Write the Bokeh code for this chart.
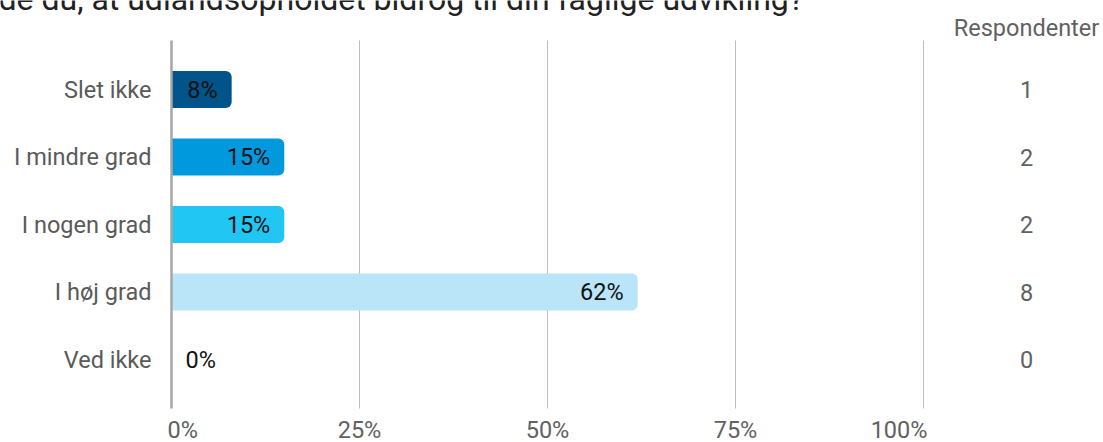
from bokeh.plotting import figure
from bokeh.models import Range1d, ColumnDataSource
from bokeh.core.properties import value
from bokeh.embed import file_html
from bokeh.resources import INLINE

# ---- data ----
categories = ["Slet ikke", "I mindre grad", "I nogen grad", "I høj grad", "Ved ikke"]
percents = [8, 15, 15, 62, 0]
respondents = [1, 2, 2, 8, 0]
bar_colors = ["#00548a", "#0099dd", "#21c6f3", "#bae5f9", "#bae5f9"]
tick_values = [0, 25, 50, 75, 100]
tick_labels = ["0%", "25%", "50%", "75%", "100%"]
title_text = "de du, at udlandsopholdet bidrog til din faglige udvikling?"
column_title = "Respondenter"

# ---- layout constants (pixels) ----
W, H = 1103, 442
X0_PX = 171          # pixel position of 0%
PX_PER_PCT = 7.52    # pixels per percent
Y0_PX = 89           # pixel centre of first row
ROW_PX = 67.5        # pixels between rows
FONT = "Roboto"
FS = "23.5px"

def ydata(px):
    return (px - Y0_PX) / ROW_PX

p = figure(width=W, height=H, output_backend="svg", toolbar_location=None,
           x_range=Range1d(-X0_PX / PX_PER_PCT, (W - X0_PX) / PX_PER_PCT),
           y_range=Range1d(ydata(H), ydata(0)),
           min_border=0, min_border_left=0, min_border_right=0,
           min_border_top=0, min_border_bottom=0)
p.axis.visible = False
p.grid.visible = False
p.outline_line_color = None
p.background_fill_color = "white"
p.border_fill_color = "white"

rows = list(range(len(categories)))

# grid lines (except 0, drawn as axis)
grid_top, grid_bot = ydata(40), ydata(408)
gx = [t for t in tick_values if t != 0]
p.segment(x0=gx, x1=gx, y0=[grid_top] * len(gx), y1=[grid_bot] * len(gx),
          line_color="#bdbdbd", line_width=1)

# bars
src = ColumnDataSource(dict(y=rows, right=percents, color=bar_colors))
p.hbar(y="y", left=0, right="right", height=37 / ROW_PX, fill_color="color",
       line_color=None, source=src, border_radius=(0, 6, 6, 0))

# axis line at 0
p.segment(x0=[0], x1=[0], y0=[grid_top], y1=[grid_bot],
          line_color="#a6a6a6", line_width=2.5)

# value labels inside bars
pos_idx = [i for i in rows if percents[i] > 0]
zero_idx = [i for i in rows if percents[i] == 0]
p.text(x=[percents[i] for i in pos_idx], y=pos_idx,
       text=[f"{percents[i]}%" for i in pos_idx],
       x_offset=-14, text_align="right", text_baseline="middle",
       text_font=value(FONT), text_font_size=FS, text_color="#111111")
p.text(x=[0 for i in zero_idx], y=zero_idx,
       text=[f"{percents[i]}%" for i in zero_idx],
       x_offset=14, text_align="left", text_baseline="middle",
       text_font=value(FONT), text_font_size=FS, text_color="#111111")

# category labels
p.text(x=[0] * len(categories), y=rows, text=categories,
       x_offset=-20, text_align="right", text_baseline="middle",
       text_font=value(FONT), text_font_size=FS, text_color="#5a5a5a")

# tick labels
aligns = ["left"] + ["center"] * (len(tick_values) - 2) + ["right"]
offs = [-4] + [0] * (len(tick_values) - 2) + [4]
tsrc = ColumnDataSource(dict(x=tick_values, y=[ydata(429)] * len(tick_values),
                             text=tick_labels, align=aligns, off=offs))
p.text(x="x", y="y", text="text", text_align="align", x_offset="off",
       text_baseline="middle", source=tsrc,
       text_font=value(FONT), text_font_size=FS, text_color="#616161")

# respondent column
p.text(x=[100] * len(rows), y=rows, text=[str(r) for r in respondents],
       x_offset=103, text_align="center", text_baseline="middle",
       text_font=value(FONT), text_font_size=FS, text_color="#616161")
p.text(x=[100], y=[ydata(27)], text=[column_title],
       x_offset=103, text_align="center", text_baseline="middle",
       text_font=value(FONT), text_font_size=FS, text_color="#616161")

# (clipped) title
p.text(x=[0], y=[ydata(-2)], text=[title_text], x_offset=-(X0_PX + 2),
       text_align="left", text_baseline="alphabetic",
       text_font=value(FONT), text_font_size="32px", text_color="#212121")

open("out.html", "w").write(file_html(p, INLINE))
